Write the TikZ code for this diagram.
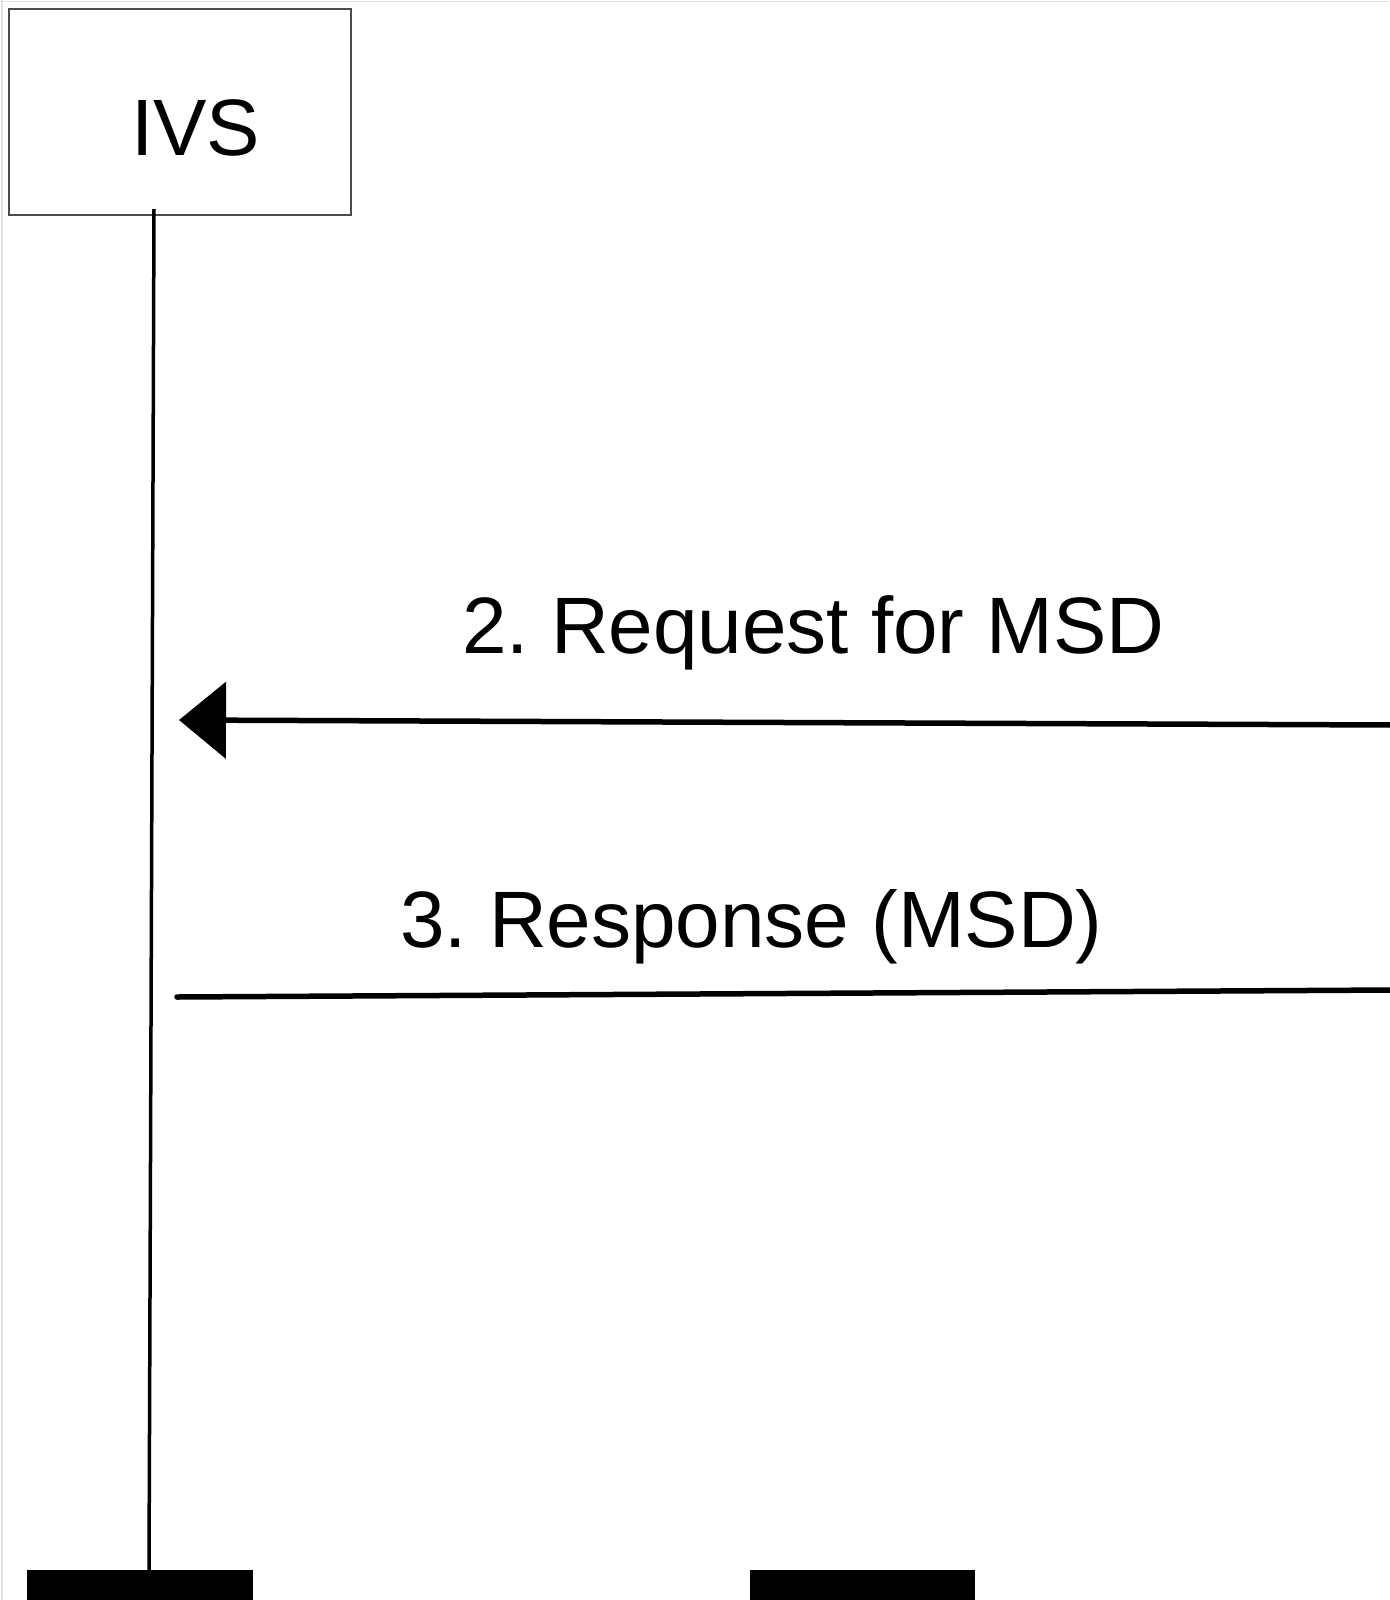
\documentclass[tikz,border=0pt]{standalone}
\usepackage{fontspec}
\setmainfont{Liberation Sans}
\usetikzlibrary{arrows.meta}
\frenchspacing
\tikzset{
  lbl/.style={inner sep=0pt, anchor=base west, font=\fontsize{80}{96}\selectfont},
  msg/.style={line width=5.5pt, black},
  bar/.style={fill=black, draw=none, inner sep=0pt, anchor=north west, minimum width=226pt, minimum height=40pt},
}
\begin{document}
\begin{tikzpicture}[x=1pt,y=-1pt]
\useasboundingbox (0,0) rectangle (1389,1600);
\fill[white] (0,0) rectangle (1389,1600);
\draw[black!12, line width=1.5pt] (0,1.5) -- (1389,1.5);
\draw[black!12, line width=1.5pt] (2,0) -- (2,1600);
% IVS box
\node[draw=black!70, line width=2pt, minimum width=342pt, minimum height=206pt, inner sep=0pt] (ivs) at (180,112) {};
\node[lbl] (ivslbl) at (131,155) {IVS};
% lifeline
\coordinate (ltop) at (154,209);
\node[bar] (bar1) at (27,1570) {};
\node[bar, minimum width=225pt] (bar2) at (750,1570) {};
\draw[line width=3.5pt] (ltop) -- (149,1570);
% messages
\coordinate (r2) at (1392,725);
\coordinate (l2) at (179,720);
\draw[msg, -{Triangle[length=47pt,width=76pt]}] (r2) -- (l2);
\node[lbl] (m2) at (462,653) {2. Request for MSD};
\coordinate (r3) at (1392,990);
\coordinate (l3) at (177,997);
\draw[msg, line cap=round] (r3) -- (l3);
\node[lbl] (m3) at (400,947) {3. Response (MSD)};
\end{tikzpicture}
\end{document}
